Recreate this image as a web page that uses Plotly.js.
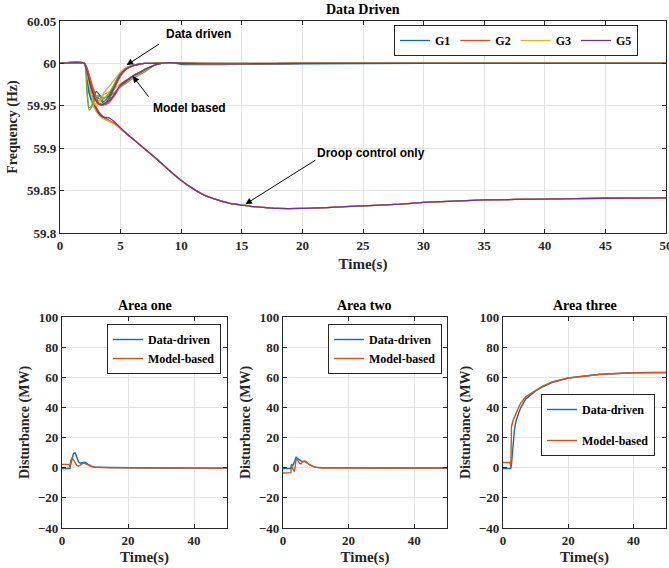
<!DOCTYPE html>
<html><head><meta charset="utf-8">
<script src="https://cdn.plot.ly/plotly-3.0.1.min.js"></script>
<style>html,body{margin:0;padding:0;background:#fff}#chart{width:669px;height:568px}</style>
</head><body><div id="chart"></div>
<script>
// ---- top panel: frequency (Hz) ----
const tFast = [0,2,2.2,2.4,2.6,2.8,3,3.3,3.6,4,4.5,5,5.5,6,6.5,7,7.5,8,9,10,12,15,20,30,40,50];
const ddG1 = [60,60,59.985,59.965,59.957,59.962,59.967,59.962,59.955,59.961,59.976,59.989,59.995,59.998,59.999,60,60,60.0005,60.001,59.999,59.9985,59.9988,59.9995,60,60,60];
const ddG2 = [60,60,59.995,59.985,59.975,59.966,59.958,59.952,59.951,59.956,59.971,59.985,59.993,59.997,59.999,60,60,60.0005,60.001,60,59.9995,59.9995,60,60,60,60];
const ddG3 = [60,60,59.99,59.975,59.962,59.955,59.95,59.955,59.965,59.972,59.981,59.99,59.995,59.998,59.999,60,60,60,60.001,60,59.9995,59.9995,60,60,60,60];
const ddG4 = [60,60,59.975,59.948,59.95,59.958,59.962,59.961,59.958,59.964,59.976,59.988,59.994,59.997,59.999,60,60,60,60.001,60,59.9995,59.9995,60,60,60,60];
const ddG5 = [60,60,59.992,59.98,59.97,59.962,59.955,59.951,59.952,59.958,59.973,59.987,59.994,59.997,59.999,60,60,60,60.001,60,59.9995,59.9995,60,60,60,60];
const mbG1 = [60,60,59.99,59.97,59.96,59.958,59.96,59.958,59.953,59.955,59.963,59.973,59.979,59.984,59.988,59.992,59.996,59.999,60.001,60.0005,59.9995,59.9995,60,60,60,60];
const mbG2 = [60,60,59.996,59.987,59.977,59.968,59.96,59.953,59.951,59.953,59.962,59.974,59.98,59.985,59.989,59.993,59.996,59.999,60.001,60.0005,60,59.9995,60,60,60,60];
const mbG3 = [60,60,59.99,59.975,59.96,59.953,59.952,59.958,59.963,59.966,59.97,59.976,59.981,59.985,59.989,59.993,59.996,59.999,60.001,60,60,60,60,60,60,60];
const mbG4 = [60,60,59.97,59.945,59.948,59.955,59.96,59.962,59.96,59.961,59.966,59.972,59.977,59.982,59.986,59.99,59.995,59.999,60.001,60,60,60,60,60,60,60];
const mbG5 = [60,60,59.993,59.982,59.971,59.963,59.956,59.952,59.952,59.955,59.964,59.975,59.98,59.985,59.989,59.993,59.996,59.999,60.001,60,60,60,60,60,60,60];

const tDroop = [0,2,2.3,2.6,3,3.5,4,4.5,5,5.5,6,7,8,9,10,11,12,13,14,15,16,17,18,20,22,25,28,30,33,35,40,45,50];
const drG1 = [60,60,59.975,59.956,59.944,59.937,59.933,59.929,59.923,59.917,59.911,59.899,59.887,59.874,59.862,59.852,59.844,59.839,59.835,59.833,59.831,59.830,59.829,59.829,59.830,59.832,59.834,59.836,59.838,59.839,59.840,59.841,59.8415];
const drG2 = [60,60,59.985,59.965,59.948,59.938,59.933,59.929,59.923,59.917,59.911,59.899,59.887,59.874,59.862,59.852,59.844,59.839,59.835,59.833,59.831,59.830,59.829,59.829,59.830,59.832,59.834,59.836,59.838,59.839,59.840,59.841,59.8415];
const drG3 = [60,60,59.978,59.958,59.943,59.935,59.932,59.928,59.923,59.917,59.911,59.899,59.887,59.874,59.862,59.852,59.844,59.839,59.835,59.833,59.831,59.830,59.829,59.829,59.830,59.832,59.834,59.836,59.838,59.839,59.840,59.841,59.8415];
const drG5 = [60,60,59.985,59.962,59.946,59.937,59.936,59.931,59.924,59.917,59.911,59.899,59.887,59.874,59.862,59.852,59.844,59.839,59.835,59.833,59.831,59.830,59.829,59.829,59.830,59.832,59.834,59.836,59.838,59.839,59.840,59.841,59.8415];

const genNames = ['G1','G2','G3','G4','G5'];
const genColors = ['#0072BD','#D95319','#EDB120','#77AC30','#7E2F8E'];
const freqTicks = [59.8,59.85,59.9,59.95,60,60.05];
const freqTickText = ['59.8','59.85','59.9','59.95','60','60.05'];

// ---- bottom panels: disturbance (MW) ----
const tArea = [0,2.2,2.4,2.6,3,3.5,4,4.5,5,5.5,6,6.5,7,7.5,8,9,10,12,15,20,30,40,50];
const a1DD = [-0.5,-0.5,-0.5,2,6,9.5,9.8,7,4,3,3.2,3.8,3.6,3,2,1,0.5,0.3,0.1,0,-0.2,-0.3,-0.3];
const a1MB = [2.2,2.2,0.5,4,6.8,5,2.5,1.5,1.2,1.5,2.5,3,2.8,2.2,1.5,0.8,0.3,0,0,-0.1,-0.3,-0.3,-0.3];
const a2DD = [-0.5,-0.5,-0.5,2,1.5,4,7,6,5,4.5,4,4.4,4,3,2,1,0.3,0,0,0,-0.1,-0.2,-0.2];
const a2MB = [-3.5,-3.5,-3.3,2,-1,-2.5,5.5,5,3,2.5,4,4.2,3.5,3,2,1,0.2,-0.2,-0.2,-0.2,-0.2,-0.2,-0.2];
const a3DD = [-0.5,-0.5,-0.5,2,15,25,31,35,37.5,40,42,44,45.7,46.5,47.5,49.5,51,53.5,56.5,59.5,62,63,63.2];
const a3MB = [3.5,3.5,0,27,31,33.5,37,39,41,43,44.5,46,47,47.8,48.5,50,51.5,54,57,59.5,62,63,63.2];
const areaTitles = ['Area one','Area two','Area three'];
const seriesNames = ['Data-driven','Model-based'];

const SERIF = 'Liberation Serif, Times New Roman, serif';
const SANS = 'Liberation Sans, Arial, sans-serif';
const AX = '#262626';
const GRID = '#e3e3e3';

const traces = [];
const droopSets = [drG1, drG2, drG3, drG5];
const droopIdx = [0,1,2,4];
droopSets.forEach((ys,i)=>{
  const k = droopIdx[i];
  traces.push({x:tDroop, y:ys, type:'scatter', mode:'lines', name:genNames[k],
    line:{color:genColors[k], width:1.3, shape:'spline', smoothing:0.6},
    xaxis:'x', yaxis:'y', legend:'legend', showlegend:true});
});
[mbG1,mbG2,mbG3,mbG4,mbG5].forEach((ys,k)=>{
  traces.push({x:tFast, y:ys, type:'scatter', mode:'lines', name:genNames[k],
    line:{color:genColors[k], width:1.3, shape:'spline', smoothing:0.6},
    xaxis:'x', yaxis:'y', showlegend:false});
});
[ddG1,ddG2,ddG3,ddG4,ddG5].forEach((ys,k)=>{
  traces.push({x:tFast, y:ys, type:'scatter', mode:'lines', name:genNames[k],
    line:{color:genColors[k], width:1.3, shape:'spline', smoothing:0.6},
    xaxis:'x', yaxis:'y', showlegend:false});
});

const areaData = [[a1DD,a1MB],[a2DD,a2MB],[a3DD,a3MB]];
const areaColors = ['#0072BD','#D95319'];
areaData.forEach((pair,i)=>{
  pair.forEach((ys,j)=>{
    traces.push({x:tArea, y:ys, type:'scatter', mode:'lines', name:seriesNames[j],
      line:{color:areaColors[j], width:1.4},
      xaxis:'x'+(i+2), yaxis:'y'+(i+2), legend:'legend'+(i+2), legendgroup:'g'+i+'_'+j, showlegend:true});
  });
});

function tickFont(){ return {family:SERIF, size:13, color:'#262626', weight:'bold'}; }
function baseAxis(){
  return {showline:true, linecolor:AX, linewidth:1.2, mirror:'ticks', ticks:'inside', ticklen:4,
    tickcolor:AX, showgrid:true, gridcolor:GRID, gridwidth:1, zeroline:false, tickfont:tickFont(),
    automargin:false};
}

const W = 669, H = 568;
const px = v => v / W, py = v => 1 - v / H;

const layout = {
  width:W, height:H, margin:{l:0,r:0,t:0,b:0}, paper_bgcolor:'#fff', plot_bgcolor:'#fff',
  showlegend:true,
  xaxis: Object.assign(baseAxis(), {domain:[px(60),px(666)], range:[0,50], dtick:5, tick0:0, ticklabeloverflow:'allow',
    title:{text:'Time(s)', font:{family:SERIF, size:15, color:'#262626', weight:'bold'}, standoff:6}, anchor:'y'}),
  yaxis: Object.assign(baseAxis(), {domain:[py(233),py(21)], range:[59.8,60.05], tickvals:freqTicks, ticktext:freqTickText,
    title:{text:'Frequency (Hz)', font:{family:SERIF, size:14, color:'#262626', weight:'bold'}, standoff:6}, anchor:'x'}),
  legend:{x:px(394), y:py(25), xanchor:'left', yanchor:'top', orientation:'h', bgcolor:'#fff',
    bordercolor:AX, borderwidth:1, font:{family:SERIF, size:12, color:'#000', weight:'bold'}},
  annotations:[], 
};
const xd = [[62,227],[283,447],[503,666]];
const legPos = [[107,324],[328,324],[541,394]];
for(let i=0;i<3;i++){
  const n = i+2;
  layout['xaxis'+n] = Object.assign(baseAxis(), {domain:[px(xd[i][0]),px(xd[i][1])], range:[0,50], dtick:20, tick0:0,
    anchor:'y'+n, title:{text:'Time(s)', font:{family:SERIF, size:15, color:'#262626', weight:'bold'}, standoff:4}});
  layout['yaxis'+n] = Object.assign(baseAxis(), {domain:[py(528),py(317)], range:[-40,100], dtick:20, tick0:0,
    anchor:'x'+n, title:{text:'Disturbance (MW)', font:{family:SERIF, size:14, color:'#262626', weight:'bold'}, standoff:4}});
  layout['legend'+n] = {x:px(legPos[i][0]), y:py(legPos[i][1]), xanchor:'left', yanchor:'top', bgcolor:'#fff',
    bordercolor:AX, borderwidth:1, font:{family:SERIF, size:12, color:'#000', weight:'bold'},
    traceorder:'grouped', tracegroupgap: i===2 ? 12 : 0};
  layout.annotations.push({text:areaTitles[i], xref:'paper', yref:'paper', x:px((xd[i][0]+xd[i][1])/2), y:py(305),
    showarrow:false, xanchor:'center', yanchor:'middle', font:{family:SERIF, size:14, color:'#000', weight:'bold'}});
}
layout.annotations.push({text:'Data Driven', xref:'paper', yref:'paper', x:px(363), y:py(10), showarrow:false,
  xanchor:'center', yanchor:'middle', font:{family:SERIF, size:14, color:'#000', weight:'bold'}});

// arrows + labels in the top panel
const annFont = {family:SANS, size:12, color:'#000', weight:'bold'};
layout.annotations.push(
  {text:'Data driven', xref:'x', yref:'y', x:11.4, y:60.0345, showarrow:false, font:annFont},
  {text:'', xref:'x', yref:'y', axref:'x', ayref:'y', x:5.5, y:59.998, ax:8.3, ay:60.024, showarrow:true, arrowhead:2, arrowsize:1.3, arrowwidth:1, arrowcolor:'#000'},
  {text:'Model based', xref:'x', yref:'y', x:10.7, y:59.948, showarrow:false, font:annFont},
  {text:'', xref:'x', yref:'y', axref:'x', ayref:'y', x:6.0, y:59.985, ax:7.4, ay:59.959, showarrow:true, arrowhead:2, arrowsize:1.3, arrowwidth:1, arrowcolor:'#000'},
  {text:'Droop control only', xref:'x', yref:'y', x:25.7, y:59.894, showarrow:false, font:annFont},
  {text:'', xref:'x', yref:'y', axref:'x', ayref:'y', x:15.3, y:59.834, ax:21.2, ay:59.887, showarrow:true, arrowhead:2, arrowsize:1.3, arrowwidth:1, arrowcolor:'#000'}
);

Plotly.newPlot('chart', traces, layout, {displayModeBar:false, staticPlot:true});
</script></body></html>
